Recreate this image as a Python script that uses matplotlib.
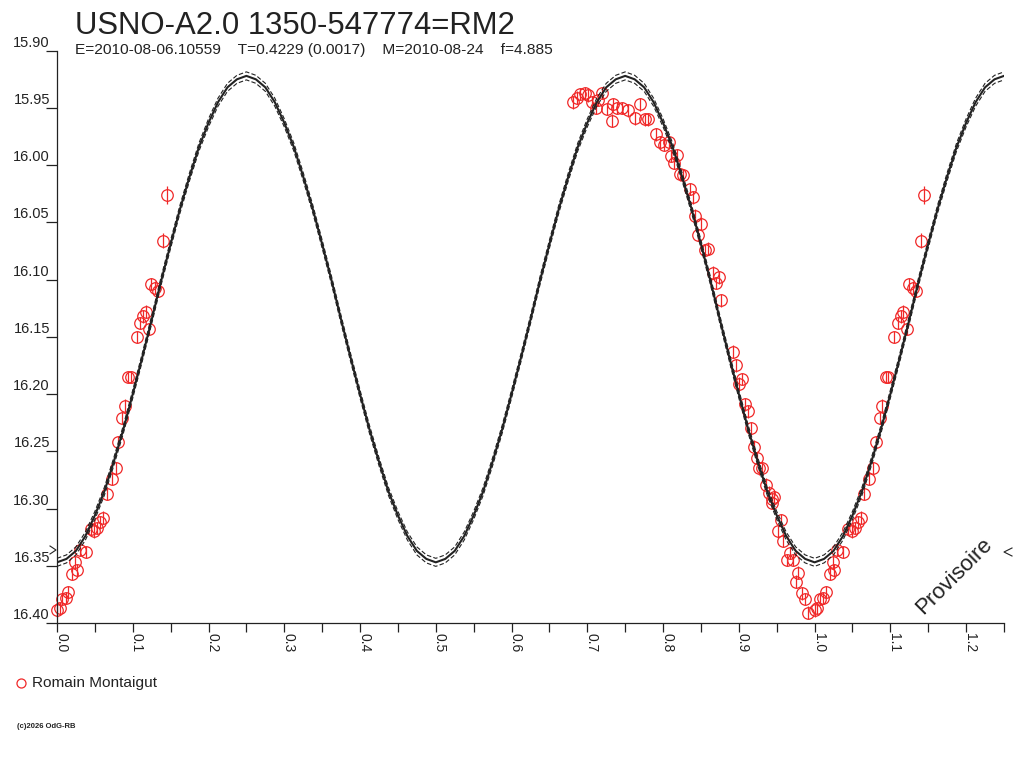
import numpy as np
import matplotlib
matplotlib.use("Agg")
import matplotlib.pyplot as plt
from matplotlib.lines import Line2D

plt.rcParams['font.family'] = ['Liberation Sans', 'DejaVu Sans']

# ---------------- data ----------------
title = "USNO-A2.0 1350-547774=RM2"
subtitle = "E=2010-08-06.10559    T=0.4229 (0.0017)    M=2010-08-24    f=4.885"
observer = "Romain Montaigut"
watermark = "Provisoire"
credit = "(c)2026 OdG-RB"

phase = [0.6815, 0.686, 0.690, 0.697, 0.701, 0.706, 0.7145, 0.720, 0.7115, 0.7256,
         0.734, 0.7387, 0.732, 0.7453, 0.754, 0.763, 0.7695, 0.776, 0.7805, 0.7906,
         0.796, 0.801, 0.8078, 0.811, 0.8188, 0.8148, 0.8223, 0.8267, 0.8356, 0.839,
         0.842, 0.850, 0.8457,
         0.8553, 0.859, 0.8655, 0.8743, 0.8695, 0.877, 0.8927, 0.8962, 0.9037, 0.900,
         0.908, 0.9125,
         0.9157, 0.920, 0.9236, 0.927, 0.931, 0.936, 0.940, 0.9435, 0.947, 0.944,
         0.9553, 0.952, 0.9585, 0.9676, 0.964, 0.971, 0.9786, 0.9755, 0.983, 0.9873,
         0.9917, 1.0005, 1.0035, 1.007, 1.0115, 1.015, 1.0203, 1.026, 1.0238, 1.030,
         1.038, 1.0445, 1.049, 1.0533, 1.0569, 1.0612, 1.0656, 1.072, 1.0775, 1.0807,
         1.0864, 1.0894, 1.0938, 1.0973, 1.1052, 1.1097, 1.1137, 1.117, 1.1216, 1.1246,
         1.1295, 1.1335, 1.1405, 1.1448]
mag = [15.945, 15.941, 15.938, 15.937, 15.939, 15.945, 15.943, 15.937, 15.950, 15.951,
       15.947, 15.950, 15.961, 15.950, 15.952, 15.959, 15.947, 15.960, 15.960, 15.973,
       15.980, 15.982, 15.980, 15.992, 15.991, 15.998, 16.008, 16.009, 16.021, 16.028,
       16.044, 16.051, 16.061,
       16.074, 16.073, 16.094, 16.098, 16.103, 16.118, 16.163, 16.175, 16.187, 16.191,
       16.209, 16.215,
       16.230, 16.246, 16.256, 16.265, 16.265, 16.279, 16.286, 16.292, 16.290, 16.295,
       16.310, 16.320, 16.328, 16.339, 16.345, 16.345, 16.356, 16.364, 16.374, 16.379,
       16.391, 16.389, 16.387, 16.379, 16.378, 16.373, 16.357, 16.354, 16.347, 16.336,
       16.338, 16.318, 16.320, 16.317, 16.312, 16.308, 16.287, 16.274, 16.265, 16.242,
       16.221, 16.210, 16.185, 16.185, 16.150, 16.138, 16.132, 16.128, 16.143, 16.104,
       16.107, 16.110, 16.066, 16.026]
err = [0.0055] * 97 + [0.0065, 0.008]

# fitted light curve, read every 0.0125 in phase from 0 to 1.25
fit_mag = [16.347, 16.344, 16.337, 16.324, 16.306, 16.285, 16.259, 16.231, 16.200, 16.168,
           16.135, 16.101, 16.069, 16.038, 16.010, 15.984, 15.963, 15.945, 15.932, 15.925,
           15.922,
           15.925, 15.932, 15.945, 15.963, 15.984, 16.010, 16.038, 16.069, 16.101, 16.135,
           16.168, 16.200, 16.231, 16.259, 16.285, 16.306, 16.324, 16.337, 16.344, 16.347,
           16.344, 16.337, 16.324, 16.306, 16.285, 16.259, 16.231, 16.200, 16.168, 16.135,
           16.101, 16.069, 16.038, 16.010, 15.984, 15.963, 15.945, 15.932, 15.925, 15.922,
           15.925, 15.932, 15.945, 15.963, 15.984, 16.010, 16.038, 16.069, 16.101, 16.135,
           16.168, 16.200, 16.231, 16.259, 16.285, 16.306, 16.324, 16.337, 16.344, 16.347,
           16.344, 16.337, 16.324, 16.306, 16.285, 16.259, 16.231, 16.200, 16.168, 16.135,
           16.101, 16.069, 16.038, 16.010, 15.984, 15.963, 15.945, 15.932, 15.925, 15.922]
fit_phase = np.linspace(0.0, 1.25, len(fit_mag))
fit_band = 0.0035

x_ticks = [round(0.05 * i, 2) for i in range(26)]
x_label_pos = [0.0, 0.1, 0.2, 0.3, 0.4, 0.5, 0.6, 0.7, 0.8, 0.9, 1.0, 1.1, 1.2]
x_labels = ["0.0", "0.1", "0.2", "0.3", "0.4", "0.5", "0.6", "0.7", "0.8", "0.9",
            "1.0", "1.1", "1.2"]
y_ticks = [15.90, 15.95, 16.00, 16.05, 16.10, 16.15, 16.20, 16.25, 16.30, 16.35, 16.40]
y_labels = ["15.90", "15.95", "16.00", "16.05", "16.10", "16.15", "16.20", "16.25",
            "16.30", "16.35", "16.40"]

# ---------------- figure ----------------
W, H = 1024, 768
fig = plt.figure(figsize=(W / 100, H / 100), dpi=100)
fig.patch.set_facecolor('white')
ax_l, ax_r, ax_t, ax_b = 57, 1004, 50.7, 623
ax = fig.add_axes([ax_l / W, 1 - ax_b / H, (ax_r - ax_l) / W, (ax_b - ax_t) / H])
ax.set_xlim(0, 1.25)
ax.set_ylim(16.40, 15.90)

ink = '#222222'
red = '#f02828'
for s in ['top', 'right']:
    ax.spines[s].set_visible(False)
for s in ['left', 'bottom']:
    ax.spines[s].set_color(ink)
    ax.spines[s].set_linewidth(0.9)

ax.set_xticks(x_ticks)
ax.set_yticks(y_ticks)
ax.tick_params(axis='x', direction='out', length=6.5, width=0.9, color=ink, labelbottom=False)
ax.tick_params(axis='y', direction='out', length=8, width=0.9, color=ink, labelleft=False)

for v, lab in zip(y_ticks, y_labels):
    ax.annotate(lab, xy=(0, v), xycoords=('axes fraction', 'data'),
                xytext=(-7, 1), textcoords='offset pixels', ha='right', va='bottom',
                fontsize=10.5, color=ink, annotation_clip=False)
for v, lab in zip(x_label_pos, x_labels):
    ax.annotate(lab, xy=(v, 0), xycoords=('data', 'axes fraction'),
                xytext=(0, -10), textcoords='offset pixels', rotation=-90,
                rotation_mode='anchor', ha='left', va='baseline',
                fontsize=10, color=ink, annotation_clip=False)

# observations (repeated one cycle to fill the phase window)
ph = np.array(phase)
mg = np.array(mag)
er = np.array(err)
for shift in (-1.0, 0.0, 1.0):
    p = ph + shift
    keep = (p >= 0) & (p <= 1.25)
    if keep.any():
        ax.errorbar(p[keep], mg[keep], yerr=er[keep], fmt='o', ms=8.3, mfc='none',
                    mec=red, mew=0.9, ecolor=red, elinewidth=0.9, capsize=0,
                    clip_on=False, zorder=2)

# fitted curve with its uncertainty band
fm = np.array(fit_mag)
ax.plot(fit_phase, fm, color=ink, lw=1.5, zorder=3)
ax.plot(fit_phase, fm - fit_band, color=ink, lw=0.8, ls=(0, (4, 2)), zorder=3)
ax.plot(fit_phase, fm + fit_band, color=ink, lw=0.8, ls=(0, (4, 2)), zorder=3)

# texts
fig.text(75 / W, 1 - 34 / H, title, fontsize=22.4, color=ink, va='baseline', ha='left')
fig.text(75 / W, 1 - 54 / H, subtitle, fontsize=11.15, color=ink, va='baseline', ha='left')
fig.text(954 / W, 1 - 576 / H, watermark, fontsize=16, color=ink, rotation=45,
         ha='center', va='center')
fig.add_artist(Line2D([50 / W, 56 / W, 50 / W], [1 - 546 / H, 1 - 550 / H, 1 - 554 / H],
                      color=ink, lw=0.8))
fig.add_artist(Line2D([1012 / W, 1004 / W, 1012 / W], [1 - 548 / H, 1 - 552 / H, 1 - 556 / H],
                      color=ink, lw=0.8))

# legend
fig.add_artist(Line2D([20.7 / W], [1 - 683 / H], marker='o', ms=6.5, mfc='none',
                      mec=red, mew=0.9, ls='none'))
fig.text(32 / W, 1 - 687.5 / H, observer, fontsize=11.1, color=ink, va='baseline', ha='left')
fig.text(17 / W, 1 - 728 / H, credit, fontsize=5.5, fontweight='bold', color=ink,
         va='baseline', ha='left')

fig.savefig('out.png', dpi=100, facecolor='white')
